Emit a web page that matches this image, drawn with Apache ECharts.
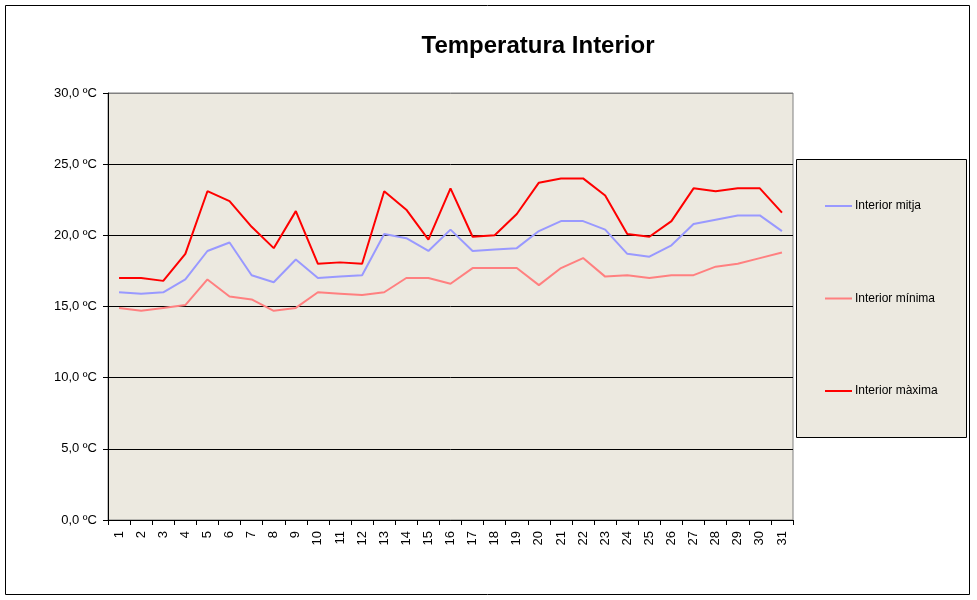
<!DOCTYPE html>
<html>
<head>
<meta charset="utf-8">
<script src="https://cdn.jsdelivr.net/npm/echarts@6/dist/echarts.min.js"></script>
<style>html,body{margin:0;padding:0;background:#fff}#c{width:977px;height:600px}</style>
</head>
<body>
<div id="c"></div>
<script>
var days = ['1','2','3','4','5','6','7','8','9','10','11','12','13','14','15','16','17','18','19','20','21','22','23','24','25','26','27','28','29','30','31'];
var interiorMitja = [16.0,15.9,16.0,16.9,18.9,19.5,17.2,16.7,18.3,17.0,17.1,17.2,20.1,19.8,18.9,20.4,18.9,19.0,19.1,20.3,21.0,21.0,20.4,18.7,18.5,19.3,20.8,21.1,21.4,21.4,20.3];
var interiorMinima = [14.9,14.7,14.9,15.1,16.9,15.7,15.5,14.7,14.9,16.0,15.9,15.8,16.0,17.0,17.0,16.6,17.7,17.7,17.7,16.5,17.7,18.4,17.1,17.2,17.0,17.2,17.2,17.8,18.0,18.4,18.8];
var interiorMaxima = [17.0,17.0,16.8,18.7,23.1,22.4,20.6,19.1,21.7,18.0,18.1,18.0,23.1,21.8,19.7,23.3,19.9,20.0,21.5,23.7,24.0,24.0,22.8,20.1,19.9,21.0,23.3,23.1,23.3,23.3,21.6];
var yTicks = {min: 0, max: 30, step: 5};

var chart = echarts.init(document.getElementById('c'), null, {renderer: 'canvas'});
var font = 'Liberation Sans, Arial, sans-serif';
function line(name, data, color) {
  return {name: name, type: 'line', data: data, symbol: 'none', smooth: false,
    lineStyle: {color: color, width: 2}, itemStyle: {color: color}, animation: false};
}
chart.setOption({
  animation: false,
  backgroundColor: '#fff',
  title: {text: 'Temperatura Interior', left: 533, top: 29, textAlign: 'center',
    textStyle: {fontFamily: font, fontSize: 24, fontWeight: 'bold', color: '#000'}},
  graphic: [
    {type: 'rect', shape: {x: 5.5, y: 5.5, width: 964, height: 589}, style: {fill: 'none', stroke: '#000', lineWidth: 1}, z: -10},
    {type: 'rect', shape: {x: 796.5, y: 159.5, width: 170, height: 278}, style: {fill: '#ECE9E0', stroke: '#000', lineWidth: 1}, z: 0}
  ],
  legend: {orient: 'vertical', left: 825, top: 200, padding: 0, itemGap: 80.5, itemWidth: 27, itemHeight: 2, icon: 'rect',
    textStyle: {fontFamily: font, fontSize: 12, color: '#000', padding: [0,0,0,-2]}, z: 10,
    data: ['Interior mitja', 'Interior mínima', 'Interior màxima']},
  grid: {left: 108, right: 184, top: 93, bottom: 80, show: true, backgroundColor: '#ECE9E0', borderColor: '#808080', borderWidth: 1},
  xAxis: {type: 'category', data: days, boundaryGap: true,
    axisLine: {lineStyle: {color: '#000', width: 1}},
    axisTick: {show: true, interval: 0, length: 5, lineStyle: {color: '#000'}},
    axisLabel: {interval: 0, rotate: 90, margin: 11, fontFamily: font, fontSize: 13, color: '#000'},
    splitLine: {show: false}},
  yAxis: {type: 'value', min: yTicks.min, max: yTicks.max, interval: yTicks.step,
    axisLine: {show: true, lineStyle: {color: '#000', width: 1}},
    axisTick: {show: true, length: 5, lineStyle: {color: '#000'}},
    axisLabel: {margin: 11, fontFamily: font, fontSize: 13, color: '#000',
      formatter: function (v) { return v.toFixed(1).replace('.', ',') + ' ºC'; }},
    splitLine: {show: true, lineStyle: {color: ['#000','#000','#000','#000','#000','#000','#808080'], width: 1}}},
  series: [
    line('Interior mitja', interiorMitja, '#9999FF'),
    line('Interior mínima', interiorMinima, '#FF8080'),
    line('Interior màxima', interiorMaxima, '#FF0000')
  ]
});
</script>
</body>
</html>
